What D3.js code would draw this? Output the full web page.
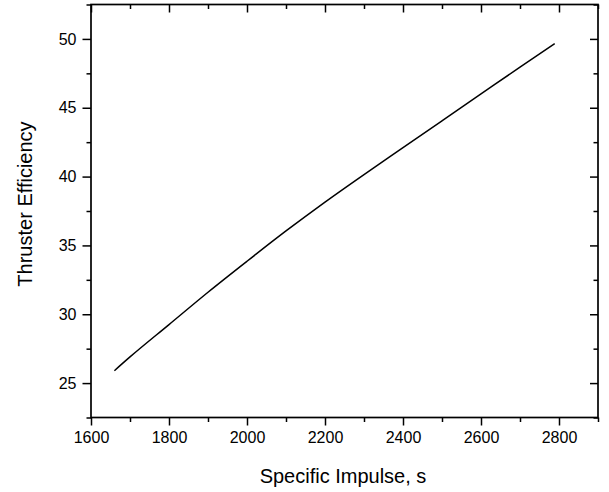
<!DOCTYPE html>
<html>
<head>
<meta charset="utf-8">
<script src="https://cdn.jsdelivr.net/npm/d3@7"></script>
<style>
  body { margin: 0; background: #fff; }
  svg { font-family: "Liberation Sans", Arial, sans-serif; }
</style>
</head>
<body>
<svg id="chart" width="609" height="492"></svg>
<script>
// specific impulse (s) and thruster efficiency (%)
const impulse = [1660, 1700, 1800, 1900, 2000, 2100, 2200, 2300, 2400, 2500, 2600, 2700, 2789];
const efficiency = [25.9, 26.9, 29.25, 31.6, 33.85, 36.05, 38.15, 40.15, 42.1, 44.05, 46.0, 47.95, 49.65];

const xMajor = [1600, 1800, 2000, 2200, 2400, 2600, 2800];
const xMinor = [1700, 1900, 2100, 2300, 2500, 2700, 2900];
const yMajor = [25, 30, 35, 40, 45, 50];
const yMinor = [22.5, 27.5, 32.5, 37.5, 42.5, 47.5, 52.5];

const svg = d3.select('#chart');
const plotL = 91, plotR = 598, plotT = 4.5, plotB = 417.5;

const x = d3.scaleLinear().domain([1600, 2900]).range([plotL, plotR]);
const y = d3.scaleLinear().domain([22.5, 52.5]).range([plotB, plotT]);

// bottom axis, ticks outward
const bot = svg.append('g').attr('transform', `translate(0,${plotB})`);
bot.call(d3.axisBottom(x).tickValues(xMajor).tickSize(8).tickPadding(6).tickFormat(d3.format('d')));
bot.append('g').call(d3.axisBottom(x).tickValues(xMinor).tickSize(4.5).tickFormat(''));

// top axis, ticks inward
const topAx = svg.append('g').attr('transform', `translate(0,${plotT})`);
topAx.call(d3.axisBottom(x).tickValues(xMajor).tickSize(8).tickFormat(''));
topAx.append('g').call(d3.axisBottom(x).tickValues(xMinor).tickSize(4.5).tickFormat(''));

// left axis, ticks outward
const lft = svg.append('g').attr('transform', `translate(${plotL},0)`);
lft.call(d3.axisLeft(y).tickValues(yMajor).tickSize(8.5).tickPadding(6).tickFormat(d3.format('d')));
lft.append('g').call(d3.axisLeft(y).tickValues(yMinor).tickSize(4.5).tickFormat(''));

// right axis, ticks inward
const rgt = svg.append('g').attr('transform', `translate(${plotR},0)`);
rgt.call(d3.axisLeft(y).tickValues(yMajor).tickSize(8).tickFormat(''));
rgt.append('g').call(d3.axisLeft(y).tickValues(yMinor).tickSize(4.5).tickFormat(''));

svg.selectAll('.domain').remove();
svg.selectAll('.tick line').attr('stroke', '#000').attr('stroke-width', 1.5);
svg.selectAll('.tick text').attr('font-size', 16).attr('fill', '#000')
  .attr('font-family', '"Liberation Sans", Arial, sans-serif');

svg.append('rect')
  .attr('x', plotL).attr('y', plotT)
  .attr('width', plotR - plotL).attr('height', plotB - plotT)
  .attr('fill', 'none').attr('stroke', '#000').attr('stroke-width', 1.7);

const line = d3.line()
  .x((d, i) => x(impulse[i]))
  .y(d => y(d))
  .curve(d3.curveMonotoneX);

svg.append('path')
  .datum(efficiency)
  .attr('d', line)
  .attr('fill', 'none')
  .attr('stroke', '#000')
  .attr('stroke-width', 1.5);

svg.append('text')
  .attr('x', 343).attr('y', 483)
  .attr('text-anchor', 'middle').attr('font-size', 20)
  .text('Specific Impulse, s');

svg.append('text')
  .attr('transform', 'translate(32,204) rotate(-90)')
  .attr('text-anchor', 'middle').attr('font-size', 20)
  .text('Thruster Efficiency');
</script>
</body>
</html>
